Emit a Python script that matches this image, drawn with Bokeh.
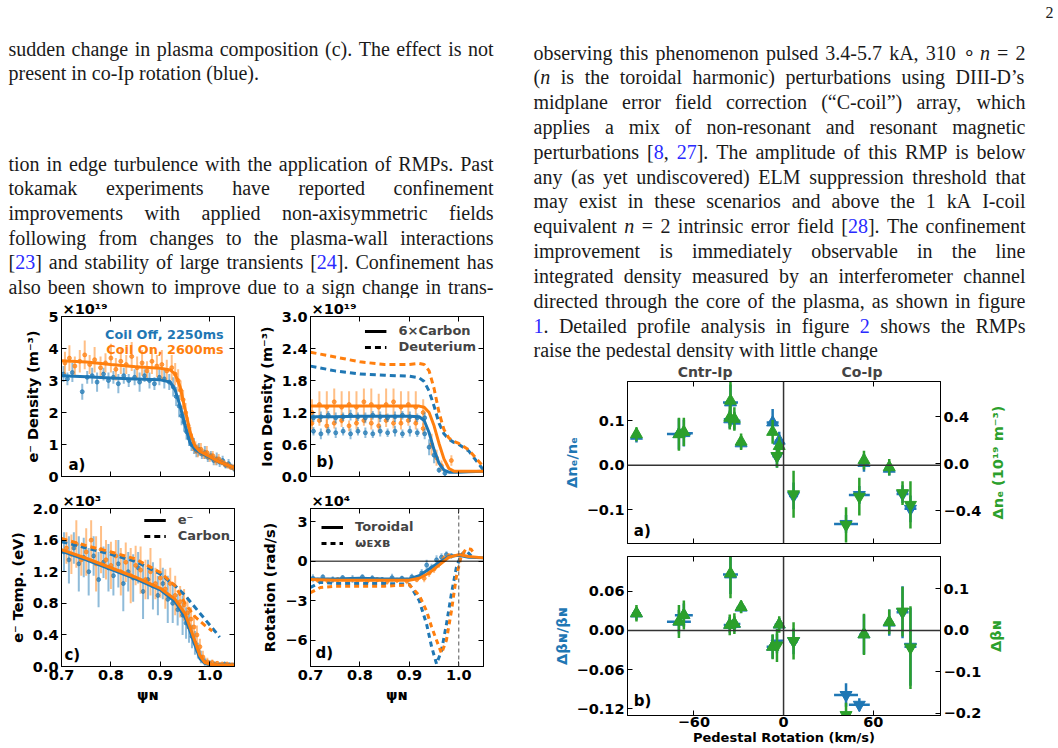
import math
from bokeh.plotting import figure
from bokeh.layouts import row, column
from bokeh.models import (Range1d, LinearAxis, FixedTicker, CustomJSTickFormatter,
                          Label, Legend, LegendItem, Span, ColumnDataSource, Title)
from bokeh.embed import file_html
from bokeh.resources import INLINE
from bokeh.core.properties import value

BLUE = "#1f77b4"; ORANGE = "#ff7f0e"; GREEN = "#2ca02c"
LINK = "#2a2aff"; INK = "#1a1a1a"
SANS = "DejaVu Sans"; SERIF = "Liberation Serif"
NAN = float("nan")

# ---------------- data: panel a (electron density, 1e19 m^-3) ----------------
psi_ticks = [0.7, 0.8, 0.9, 1.0]
psi_fit = [0.70, 0.75, 0.80, 0.85, 0.90, 0.92, 0.93, 0.94, 0.95, 0.96, 0.97, 0.98, 1.00, 1.02, 1.05]
ne_fit_off = [3.15, 3.12, 3.08, 3.05, 3.02, 2.95, 2.7, 2.2, 1.6, 1.05, 0.85, 0.75, 0.6, 0.45, 0.28]
ne_fit_on = [3.62, 3.58, 3.5, 3.43, 3.38, 3.33, 3.2, 2.8, 2.1, 1.4, 0.95, 0.78, 0.62, 0.45, 0.28]
ne_off_x = [0.704, 0.712, 0.722, 0.742, 0.752, 0.762, 0.772, 0.785, 0.795, 0.805,
            0.815, 0.826, 0.836, 0.848, 0.858, 0.868, 0.878, 0.888, 0.898, 0.908,
            0.918, 0.926, 0.932, 0.938, 0.943, 0.948, 0.953, 0.958, 0.963, 0.968,
            0.973, 0.978, 0.984, 0.99, 0.996, 1.002, 1.008, 1.014, 1.02, 1.026,
            1.032, 1.038, 1.044, 1.049]
ne_off_y = [3.2, 3.05, 3.25, 2.65, 3.1, 3.15, 2.95, 3.2, 3.0, 3.1,
            2.9, 3.15, 3.0, 3.1, 2.95, 3.15, 3.0, 2.9, 3.1, 3.05,
            2.95, 2.8, 2.5, 2.2, 1.9, 1.7, 1.4, 1.2, 1.0, 0.95,
            0.8, 0.85, 0.7, 0.75, 0.6, 0.65, 0.5, 0.55, 0.45, 0.5,
            0.35, 0.4, 0.3, 0.25]
ne_off_err = [0.25, 0.2, 0.3, 0.25, 0.2, 0.25, 0.3, 0.2, 0.25, 0.2,
              0.3, 0.25, 0.2, 0.25, 0.3, 0.2, 0.25, 0.2, 0.25, 0.3,
              0.25, 0.3, 0.3, 0.35, 0.3, 0.3, 0.25, 0.25, 0.2, 0.25,
              0.2, 0.2, 0.15, 0.2, 0.15, 0.15, 0.15, 0.2, 0.15, 0.15,
              0.1, 0.15, 0.1, 0.1]
ne_on_x = [0.707, 0.716, 0.727, 0.737, 0.747, 0.757, 0.767, 0.779, 0.789, 0.80,
           0.81, 0.82, 0.831, 0.842, 0.853, 0.863, 0.873, 0.883, 0.893, 0.903,
           0.913, 0.923, 0.93, 0.936, 0.941, 0.946, 0.951, 0.956, 0.961, 0.966,
           0.971, 0.976, 0.982, 0.988, 0.994, 1.0, 1.006, 1.012, 1.018, 1.024,
           1.03, 1.036, 1.042, 1.048]
ne_on_y = [3.55, 3.7, 3.45, 3.6, 3.8, 3.5, 3.65, 3.4, 3.55, 3.7,
           3.35, 3.6, 3.5, 3.75, 3.4, 3.55, 3.3, 3.6, 3.45, 3.5,
           3.3, 3.4, 3.2, 3.0, 2.7, 2.4, 2.0, 1.6, 1.3, 1.0,
           0.9, 0.8, 0.85, 0.7, 0.75, 0.6, 0.65, 0.5, 0.55, 0.45,
           0.4, 0.35, 0.3, 0.28]
ne_on_err = [0.35, 0.4, 0.3, 0.35, 0.45, 0.3, 0.4, 0.35, 0.3, 0.45,
             0.35, 0.4, 0.3, 0.45, 0.35, 0.4, 0.3, 0.4, 0.35, 0.45,
             0.35, 0.4, 0.35, 0.35, 0.3, 0.3, 0.3, 0.25, 0.25, 0.2,
             0.2, 0.2, 0.2, 0.15, 0.2, 0.15, 0.15, 0.15, 0.15, 0.1,
             0.1, 0.1, 0.1, 0.1]

# ---------------- data: panel b (ion density, 1e19 m^-3) ----------------
psi_b = [0.70, 0.75, 0.80, 0.85, 0.90, 0.92, 0.93, 0.94, 0.95, 0.96, 0.97, 0.98, 0.99, 1.00, 1.02, 1.05]
nc_on = [1.32, 1.32, 1.32, 1.32, 1.32, 1.32, 1.3, 1.2, 0.95, 0.62, 0.33, 0.15, 0.1, 0.1, 0.1, 0.1]
nc_off = [1.12, 1.12, 1.13, 1.13, 1.13, 1.12, 1.05, 0.82, 0.5, 0.25, 0.12, 0.08, 0.08, 0.08, 0.09, 0.1]
nd_on = [2.33, 2.24, 2.15, 2.1, 2.1, 2.12, 2.1, 1.98, 1.65, 1.2, 0.88, 0.72, 0.66, 0.62, 0.5, 0.18]
nd_off = [2.07, 1.98, 1.92, 1.9, 1.88, 1.85, 1.78, 1.6, 1.32, 1.0, 0.8, 0.7, 0.64, 0.6, 0.48, 0.12]
ni_x = [0.703, 0.718, 0.733, 0.748, 0.763, 0.778, 0.793, 0.808, 0.823, 0.838, 0.853, 0.868, 0.883, 0.898, 0.913, 0.928]
ni_on_hi = [1.2, 1.35, 1.3, 1.4, 1.3, 1.35, 1.3, 1.4, 1.35, 1.3, 1.35, 1.4, 1.3, 1.35, 1.3, 1.2]
ni_on_hi_err = [0.25, 0.25, 0.3, 0.25, 0.3, 0.25, 0.3, 0.25, 0.3, 0.25, 0.3, 0.25, 0.3, 0.25, 0.3, 0.25]
ni_on_lo = [1.0, 1.05, 0.95, 1.0, 1.05, 0.95, 1.0, 1.05, 1.0, 0.95, 1.05, 1.0, 1.0, 1.05, 1.0, 0.9]
ni_on_lo_err = [0.12, 0.1, 0.12, 0.1, 0.12, 0.1, 0.12, 0.1, 0.12, 0.1, 0.12, 0.1, 0.12, 0.1, 0.12, 0.1]
ni_off_hi = [1.1, 1.12, 1.15, 1.1, 1.12, 1.15, 1.12, 1.1, 1.15, 1.12, 1.1, 1.12, 1.15, 1.12, 1.1, 1.1]
ni_off_lo = [0.85, 0.8, 0.85, 0.82, 0.85, 0.8, 0.85, 0.82, 0.8, 0.85, 0.82, 0.85, 0.8, 0.85, 0.82, 0.8]
ni_off_err = [0.08, 0.1, 0.08, 0.1, 0.08, 0.1, 0.08, 0.1, 0.08, 0.1, 0.08, 0.1, 0.08, 0.1, 0.08, 0.1]
ni_edge_on_x = [0.945, 0.955, 0.965, 0.985]
ni_edge_on_y = [0.6, 0.35, 0.2, 0.3]
ni_edge_on_err = [0.2, 0.15, 0.1, 0.1]
ni_edge_off_x = [0.94, 0.95, 0.96, 0.972]
ni_edge_off_y = [0.55, 0.4, 0.12, 0.06]
ni_edge_off_err = [0.15, 0.15, 0.05, 0.05]

# ---------------- data: panel c (temperature, 1e3 eV) ----------------
psi_c = [0.70, 0.75, 0.80, 0.85, 0.90, 0.93, 0.95, 0.96, 0.97, 0.98, 0.99, 1.00, 1.02, 1.05]
te_fit_off = [1.46, 1.35, 1.23, 1.11, 0.97, 0.82, 0.62, 0.45, 0.27, 0.1, 0.04, 0.02, 0.02, 0.02]
te_fit_on = [1.48, 1.37, 1.25, 1.13, 0.99, 0.85, 0.67, 0.5, 0.32, 0.14, 0.05, 0.03, 0.02, 0.02]
ti_off_x = [0.70, 0.75, 0.80, 0.85, 0.90, 0.93, 0.95, 0.97, 0.99, 1.01, 1.02]
ti_off = [1.58, 1.5, 1.42, 1.33, 1.17, 1.02, 0.9, 0.75, 0.6, 0.45, 0.37]
ti_on_x = [0.70, 0.75, 0.80, 0.85, 0.90, 0.93, 0.95, 0.97, 0.99, 1.005]
ti_on = [1.62, 1.53, 1.45, 1.36, 1.19, 1.02, 0.8, 0.63, 0.52, 0.45]
te_off_x = [0.705, 0.715, 0.725, 0.735, 0.745, 0.755, 0.765, 0.775, 0.785, 0.795,
            0.805, 0.815, 0.825, 0.835, 0.845, 0.855, 0.865, 0.875, 0.885, 0.895,
            0.905, 0.915, 0.925, 0.935, 0.945, 0.952, 0.958, 0.964, 0.97, 0.976,
            0.982, 0.99, 1.0, 1.01, 1.02, 1.03, 1.04, 1.05]
te_off_y = [1.45, 1.35, 1.5, 1.3, 1.38, 1.2, 1.4, 1.1, 1.32, 1.25,
            1.15, 1.3, 1.05, 1.2, 1.12, 1.25, 0.95, 1.1, 1.02, 0.9,
            1.05, 0.85, 0.8, 0.72, 0.65, 0.55, 0.5, 0.38, 0.3, 0.2,
            0.12, 0.06, 0.04, 0.03, 0.02, 0.03, 0.02, 0.02]
te_off_err = [0.25, 0.3, 0.2, 0.35, 0.25, 0.3, 0.25, 0.35, 0.2, 0.3,
              0.25, 0.3, 0.35, 0.25, 0.3, 0.2, 0.35, 0.25, 0.3, 0.25,
              0.2, 0.3, 0.25, 0.2, 0.25, 0.2, 0.2, 0.15, 0.15, 0.1,
              0.08, 0.05, 0.04, 0.03, 0.03, 0.03, 0.03, 0.03]
te_on_x = [0.71, 0.72, 0.73, 0.74, 0.75, 0.76, 0.77, 0.78, 0.79, 0.80,
           0.81, 0.82, 0.83, 0.84, 0.85, 0.86, 0.87, 0.88, 0.89, 0.90,
           0.91, 0.92, 0.93, 0.94, 0.948, 0.955, 0.962, 0.968, 0.974, 0.98,
           0.986, 0.995, 1.005, 1.015, 1.025, 1.035, 1.045]
te_on_y = [1.5, 1.42, 1.55, 1.35, 1.45, 1.6, 1.3, 1.48, 1.35, 1.28,
           1.4, 1.2, 1.32, 1.15, 1.28, 1.22, 1.1, 1.2, 1.05, 1.12,
           0.98, 1.05, 0.9, 0.82, 0.78, 0.68, 0.6, 0.5, 0.4, 0.25,
           0.12, 0.06, 0.05, 0.04, 0.03, 0.03, 0.02]
te_on_err = [0.2, 0.25, 0.3, 0.2, 0.3, 0.25, 0.35, 0.3, 0.25, 0.3,
             0.2, 0.3, 0.25, 0.35, 0.25, 0.3, 0.25, 0.3, 0.2, 0.25,
             0.25, 0.2, 0.25, 0.2, 0.2, 0.2, 0.15, 0.15, 0.12, 0.1,
             0.08, 0.05, 0.04, 0.03, 0.03, 0.03, 0.03]

# ---------------- data: panel d (rotation, 1e4 rad/s) ----------------
rot_x = [0.70, 0.75, 0.80, 0.85, 0.90, 0.92, 0.94, 0.96, 0.98, 1.00, 1.02, 1.05]
vtor_off = [-1.35, -1.35, -1.3, -1.35, -1.35, -1.1, -0.6, -0.1, 0.35, 0.45, 0.3, 0.25]
vtor_on = [-1.4, -1.45, -1.45, -1.45, -1.45, -1.3, -0.9, -0.3, 0.3, 0.5, 0.35, 0.25]
exb_x = [0.70, 0.72, 0.75, 0.80, 0.85, 0.90, 0.92, 0.935, 0.945, 0.955, 0.965, 0.975, 0.985, 0.995, 1.005, 1.015, 1.025, 1.03]
exb_off = [-2.0, -1.6, -1.7, -1.7, -1.7, -1.75, -3.0, -4.8, -6.5, -7.8, -6.8, -4.8, -2.5, -0.5, 0.5, 0.8, 0.4, 0.2]
exb_on = [-2.4, -2.0, -1.9, -1.9, -1.9, -1.8, -2.6, -3.8, -5.0, -6.0, -7.0, -6.0, -3.8, -1.2, 0.4, 0.95, 0.9, 0.6]
rot_off_x = [0.705, 0.725, 0.745, 0.765, 0.785, 0.805, 0.825, 0.845, 0.865, 0.885, 0.905, 0.925, 0.935, 0.945, 0.955, 0.965, 0.975, 0.985]
rot_off_y = [-1.3, -1.2, -1.4, -1.25, -1.35, -1.2, -1.3, -1.4, -1.25, -1.3, -1.2, -0.9, -0.3, -0.5, 0.1, 0.3, 0.5, 0.4]
rot_off_err = [0.3, 0.2, 0.25, 0.2, 0.3, 0.2, 0.25, 0.2, 0.3, 0.2, 0.25, 0.3, 0.4, 0.3, 0.35, 0.3, 0.25, 0.2]
rot_on_x = [0.715, 0.735, 0.755, 0.775, 0.795, 0.815, 0.835, 0.855, 0.875, 0.895, 0.915, 0.93, 0.94, 0.95, 0.96, 0.97, 0.98]
rot_on_y = [-1.45, -1.5, -1.4, -1.55, -1.45, -1.5, -1.4, -1.55, -1.45, -1.5, -1.4, -1.3, -0.9, -0.6, -0.2, 0.2, 0.4]
rot_on_err = [0.2, 0.25, 0.2, 0.25, 0.2, 0.25, 0.2, 0.25, 0.2, 0.25, 0.2, 0.3, 0.3, 0.3, 0.3, 0.25, 0.2]

# ---------------- data: right figure (per-shot changes vs pedestal rotation) ----------------
shot_rot = [-98.4, -70.0, -66.7, -35.5, -36.0, -32.9, -28.4, -7.3, -4.4, -2.9, 6.7, 41.8, 50.7, 53.8, 70.7, 79.6, 84.9]
shot_rot_err = [3, 8, 6, 5, 4, 4, 3, 4, 3, 3, 3, 8, 7, 3, 3, 4, 4]
shot_marker = ["triangle", "triangle", "triangle", "triangle", "triangle", "triangle", "triangle",
               "triangle", "inverted_triangle", "triangle", "inverted_triangle", "inverted_triangle",
               "inverted_triangle", "triangle", "triangle", "inverted_triangle", "inverted_triangle"]
dne_rel = [0.066, 0.07, 0.072, 0.141, 0.103, 0.10, 0.049, 0.096, 0.02, 0.055, -0.069, -0.132, -0.067, 0.005, -0.008, -0.065, -0.098]
dne_rel_err = [0.015, 0.035, 0.03, 0.04, 0.02, 0.02, 0.012, 0.03, 0.025, 0.02, 0.03, 0.02, 0.02, 0.02, 0.015, 0.02, 0.03]
dne_abs = [0.25, 0.25, 0.27, 0.535, 0.39, 0.38, 0.187, 0.27, 0.065, 0.15, -0.26, -0.52, -0.28, 0.03, -0.03, -0.25, -0.35]
dne_abs_err = [0.06, 0.14, 0.12, 0.22, 0.1, 0.1, 0.07, 0.1, 0.1, 0.08, 0.2, 0.15, 0.16, 0.08, 0.07, 0.1, 0.2]
dbeta_rel = [0.026, 0.0135, 0.0235, 0.086, 0.0085, 0.01, 0.035, -0.025, -0.02, 0.009, -0.0165, -0.099, -0.114, -0.006, 0.012, 0.028, -0.025]
dbeta_rel_err = [0.01, 0.018, 0.018, 0.03, 0.012, 0.012, 0.008, 0.018, 0.015, 0.01, 0.02, 0.018, 0.01, 0.03, 0.02, 0.04, 0.06]
dbeta_abs = [0.041, 0.021, 0.037, 0.137, 0.013, 0.016, 0.056, -0.04, -0.037, 0.014, -0.026, -0.205, -0.24, -0.01, 0.02, 0.045, -0.042]
dbeta_abs_err = [0.02, 0.04, 0.035, 0.06, 0.025, 0.025, 0.015, 0.03, 0.04, 0.02, 0.045, 0.03, 0.03, 0.05, 0.03, 0.06, 0.1]

# ---------------- page text ----------------
left_lines = [
    ("sudden change in plasma composition (c). The effect is not", True),
    ("present in co-Ip rotation (blue).", False),
    ("tion in edge turbulence with the application of RMPs. Past", True),
    ("tokamak experiments have reported confinement", True),
    ("improvements with applied non-axisymmetric fields", True),
    ("following from changes to the plasma-wall interactions", True),
    ("[{23}] and stability of large transients [{24}]. Confinement has", True),
    ("also been shown to improve due to a sign change in trans-", True),
]
left_centers = [48, 72.5, 163, 187.5, 212, 237, 261.5, 286]
right_lines = [
    ("observing this phenomenon pulsed 3.4-5.7 kA, 310 ∘ _n_ = 2", True),
    ("(_n_ is the toroidal harmonic) perturbations using DIII-D’s", True),
    ("midplane error field correction (“C-coil”) array, which", True),
    ("applies a mix of non-resonant and resonant magnetic", True),
    ("perturbations [{8}, {27}]. The amplitude of this RMP is below", True),
    ("any (as yet undiscovered) ELM suppression threshold that", True),
    ("may exist in these scenarios and above the 1 kA I-coil", True),
    ("equivalent _n_ = 2 intrinsic error field [{28}]. The confinement", True),
    ("improvement is immediately observable in the line", True),
    ("integrated density measured by an interferometer channel", True),
    ("directed through the core of the plasma, as shown in figure", True),
    ("{1}. Detailed profile analysis in figure {2} shows the RMPs", True),
    ("raise the pedestal density with little change", False),
]

# Times-compatible advance widths (per 1000 em) for Liberation Serif
TW = {' ': 250, '!': 333, '(': 333, ')': 333, ',': 250, '-': 333, '.': 250, '/': 278, ':': 278,
      ';': 278, '=': 564, '[': 333, ']': 333, '’': 333, '“': 444, '”': 444, '∘': 500, '?': 444}
for _c in "0123456789":
    TW[_c] = 500
TW.update(dict(A=722, B=667, C=667, D=722, E=611, F=556, G=722, H=722, I=333, J=389, K=722, L=611,
               M=889, N=722, O=722, P=556, Q=722, R=667, S=556, T=611, U=722, V=722, W=944, X=722,
               Y=722, Z=611))
TW.update(dict(a=444, b=500, c=444, d=500, e=444, f=333, g=500, h=500, i=278, j=278, k=500, l=278,
               m=778, n=500, o=500, p=500, q=500, r=333, s=389, t=278, u=500, v=500, w=722, x=500,
               y=500, z=444))


def tw(s):
    return sum(TW.get(c, 500) for c in s) / 1000.0


def parse_word(word):
    segs, cur, color, style = [], "", INK, "normal"
    for ch in word:
        if ch in "{}_":
            if cur:
                segs.append((cur, color, style))
            cur = ""
            if ch == "{":
                color = LINK
            elif ch == "}":
                color = INK
            else:
                style = "italic" if style == "normal" else "normal"
        else:
            cur += ch
    if cur:
        segs.append((cur, color, style))
    return segs


def layout_text(lines, centers, x0, x1, fs):
    out = {"normal": dict(x=[], y=[], t=[], c=[]), "italic": dict(x=[], y=[], t=[], c=[])}
    for (line, just), yc in zip(lines, centers):
        words = [parse_word(w) for w in line.split(" ")]
        widths = [sum(tw(s[0]) for s in w) * fs for w in words]
        if just and len(words) > 1:
            gap = (x1 - x0 - sum(widths)) / (len(words) - 1)
        else:
            gap = 0.25 * fs
        x = x0
        for w, wd in zip(words, widths):
            xx = x
            for t, c, st in w:
                d = out[st]
                d["x"].append(xx); d["y"].append(yc); d["t"].append(t); d["c"].append(c)
                xx += tw(t) * fs
            x += wd + gap
    return out


def blank_fig(W, H):
    p = figure(width=W, height=H, x_range=Range1d(0, W), y_range=Range1d(H, 0),
               x_axis_type=None, y_axis_type=None, output_backend="svg", toolbar_location=None,
               min_border=0, outline_line_color=None)
    p.grid.visible = False
    return p


def text_fig(W, H, lines, centers, x0, x1, fs):
    p = blank_fig(W, H)
    data = layout_text(lines, centers, x0, x1, fs)
    for st, d in data.items():
        if d["x"]:
            p.text(x="x", y="y", text="t", text_color="c", source=ColumnDataSource(d),
                   text_font=value(SERIF), text_font_size=value(f"{fs}px"),
                   text_font_style=value(st), text_baseline=value("middle"),
                   text_align=value("left"))
    return p


def vlabel_fig(W, H, x, y, text, color):
    # rotated axis title reading bottom-to-top, placed beside a right-hand axis
    p = blank_fig(W, H)
    p.text(x=[x], y=[y], text=[text], angle=math.pi / 2, text_font=value(SANS),
           text_font_style=value("bold"), text_font_size=value("14.5px"), text_color=color,
           text_align=value("center"), text_baseline=value("middle"))
    return p


# ---------------- chart helpers ----------------
def fmt(dec):
    return CustomJSTickFormatter(code=f"var s = Math.abs(tick).toFixed({dec}); return (tick < -1e-9 ? '\\u2212' : '') + s;")


def style_axis(ax, ticks, dec, show=True, size="14.5px"):
    ax.ticker = FixedTicker(ticks=ticks)
    ax.formatter = fmt(dec) if show else CustomJSTickFormatter(code="return '';")
    ax.major_tick_in = 5
    ax.major_tick_out = 0
    ax.minor_tick_in = 0
    ax.minor_tick_out = 0
    ax.major_tick_line_color = "black"
    ax.axis_line_color = "black"
    ax.major_label_text_font = SANS
    ax.major_label_text_font_style = "bold"
    ax.major_label_text_color = "black"
    ax.major_label_text_font_size = size
    ax.major_label_standoff = 3 if show else 0
    ax.axis_label_text_font = SANS
    ax.axis_label_text_font_style = "bold"
    ax.axis_label_text_font_size = "14.5px"
    ax.axis_label_text_color = "black"
    ax.axis_label_standoff = 4


def base_fig(fw, fh, bl, br, bt, bb, xr, yr):
    p = figure(frame_width=fw, frame_height=fh, min_border_left=bl, min_border_right=br,
               min_border_top=bt, min_border_bottom=bb, x_range=Range1d(*xr), y_range=Range1d(*yr),
               output_backend="svg", toolbar_location=None)
    p.grid.visible = False
    p.outline_line_color = "black"
    p.outline_line_alpha = 1.0
    p.outline_line_width = 1
    return p


def left_panel(bl, br, bt, bb, fh, yr, yticks, ydec, ylabel, show_x, offset_text):
    p = base_fig(173, fh, bl, br, bt, bb, (0.7, 1.05), yr)
    p.title = Title(text=offset_text, align="left", offset=1, standoff=0, text_font=SANS,
                    text_font_style="bold", text_font_size="14.5px", text_color="black")
    style_axis(p.below[0], psi_ticks, 1, show_x)
    style_axis(p.left[0], yticks, ydec, True)
    p.left[0].axis_label = ylabel
    if show_x:
        p.below[0].axis_label = "ψɴ"
    top = LinearAxis()
    style_axis(top, psi_ticks, 1, False)
    p.add_layout(top, "above")
    rgt = LinearAxis()
    style_axis(rgt, yticks, ydec, False)
    p.add_layout(rgt, "right")
    return p


def errbars(p, xs, ys, es, color, alpha=0.5, width=2, size=4, **kw):
    src = ColumnDataSource(dict(x=xs, y=ys, lo=[y - e for y, e in zip(ys, es)],
                                hi=[y + e for y, e in zip(ys, es)]))
    p.segment(x0="x", y0="lo", x1="x", y1="hi", source=src, line_color=color,
              line_alpha=alpha, line_width=width, **kw)
    p.scatter(x="x", y="y", source=src, size=size, fill_color=color, line_color=color,
              alpha=min(1.0, alpha + 0.2), **kw)


def add_label(p, x, y, text, color="black", size="14.5px", align="left", baseline="middle"):
    p.add_layout(Label(x=x, y=y, text=text, text_color=color,
                       text_font=SANS, text_font_style="bold", text_font_size=size,
                       text_align=align, text_baseline=baseline))


def add_legend(p, labels, dash, location, margin):
    r1 = p.line([NAN], [NAN], line_color="black", line_width=3)
    r2 = p.line([NAN], [NAN], line_color="black", line_width=3, line_dash=dash)
    leg = Legend(items=[LegendItem(label=labels[0], renderers=[r1]),
                        LegendItem(label=labels[1], renderers=[r2])], location=location)
    leg.background_fill_alpha = 0
    leg.border_line_alpha = 0
    leg.label_text_font = SANS
    leg.label_text_font_style = "bold"
    leg.label_text_font_size = "13px"
    leg.glyph_width = 22
    leg.glyph_height = 14
    leg.label_height = 14
    leg.spacing = 1
    leg.padding = 3
    leg.label_standoff = 12
    leg.margin = margin
    p.add_layout(leg)


# ---------------- panel a ----------------
pa = left_panel(61, 21, 17, 10, 160, (0, 5), [0, 1, 2, 3, 4, 5], 0, "e⁻ Density (m⁻³)", False, "×10¹⁹")
errbars(pa, ne_off_x, ne_off_y, ne_off_err, BLUE)
errbars(pa, ne_on_x, ne_on_y, ne_on_err, ORANGE)
pa.line(psi_fit, ne_fit_off, line_color=BLUE, line_width=3)
pa.line(psi_fit, ne_fit_on, line_color=ORANGE, line_width=3)
add_label(pa, 1.028, 4.44, "Coil Off, 2250ms", color=BLUE, size="12.8px", align="right")
add_label(pa, 1.028, 3.97, "Coil On, 2600ms", color=ORANGE, size="12.8px", align="right")
add_label(pa, 0.714, 0.375, "a)", size="15px")

# ---------------- panel b ----------------
pb = left_panel(54, 42, 17, 10, 160, (0, 3.0), [0, 0.6, 1.2, 1.8, 2.4, 3.0], 1, "Ion Density (m⁻³)", False, "×10¹⁹")
errbars(pb, ni_x, ni_on_hi, ni_on_hi_err, ORANGE)
errbars(pb, ni_x, ni_on_lo, ni_on_lo_err, ORANGE)
errbars(pb, [v + 0.003 for v in ni_x], ni_off_hi, ni_off_err, BLUE)
errbars(pb, [v + 0.003 for v in ni_x], ni_off_lo, ni_off_err, BLUE)
errbars(pb, ni_edge_on_x, ni_edge_on_y, ni_edge_on_err, ORANGE)
errbars(pb, ni_edge_off_x, ni_edge_off_y, ni_edge_off_err, BLUE)
pb.line(psi_b, nd_off, line_color=BLUE, line_width=3, line_dash="6 4")
pb.line(psi_b, nd_on, line_color=ORANGE, line_width=3, line_dash="6 4")
pb.line(psi_b, nc_off, line_color=BLUE, line_width=3)
pb.line(psi_b, nc_on, line_color=ORANGE, line_width=3)
add_legend(pb, ["6×Carbon", "Deuterium"], "6 4", "top_right", 4)
add_label(pb, 0.712, 0.264, "b)", size="15px")

# ---------------- panel c ----------------
pc = left_panel(61, 21, 22, 83, 158, (0, 2.0), [0, 0.4, 0.8, 1.2, 1.6, 2.0], 1, "e⁻ Temp. (eV)", True, "×10³")
errbars(pc, te_off_x, te_off_y, te_off_err, BLUE)
errbars(pc, te_on_x, te_on_y, te_on_err, ORANGE)
pc.line(psi_c, te_fit_off, line_color=BLUE, line_width=3)
pc.line(psi_c, te_fit_on, line_color=ORANGE, line_width=3)
pc.line(ti_off_x, ti_off, line_color=BLUE, line_width=3, line_dash="6 4")
pc.line(ti_on_x, ti_on, line_color=ORANGE, line_width=3, line_dash="6 4")
add_legend(pc, ["e⁻", "Carbon"], "6 4", "top_right", 1)
add_label(pc, 0.706, 0.14, "c)", size="15px")

# ---------------- panel d ----------------
pd = left_panel(55, 42, 22, 83, 158, (-8, 4), [-6, -3, 0, 3], 0, "Rotation (rad/s)", True, "×10⁴")
pd.add_layout(Span(location=0, dimension="width", line_color="black", line_width=1))
pd.add_layout(Span(location=1.0, dimension="height", line_color="#555555", line_width=1, line_dash="4 3"))
errbars(pd, rot_off_x, rot_off_y, rot_off_err, BLUE, alpha=0.45)
errbars(pd, rot_on_x, rot_on_y, rot_on_err, ORANGE, alpha=0.45)
pd.line(exb_x, exb_off, line_color=BLUE, line_width=3, line_dash="5 4")
pd.line(exb_x, exb_on, line_color=ORANGE, line_width=3, line_dash="5 4")
pd.line(rot_x, vtor_off, line_color=BLUE, line_width=3)
pd.line(rot_x, vtor_on, line_color=ORANGE, line_width=3)
add_legend(pd, ["Toroidal", "ωᴇxʙ"], "5 4", "top_left", 8)
add_label(pd, 0.71, -6.97, "d)", size="15px")


# ---------------- right figure ----------------
def right_panel(bt, bb, fh, yl, yr, lticks, ldec, rticks, rdec, llabel, show_x, titles, xlabel=None):
    p = base_fig(313, fh, 102, 45, bt, bb, (-104.4, 105), yl)
    p.extra_y_ranges = {"abs": Range1d(*yr)}
    bottom = p.below[0]
    style_axis(bottom, [-60, 0, 60], 0, show_x)
    if xlabel:
        bottom.axis_label = xlabel
        bottom.major_label_standoff = 1
        bottom.axis_label_standoff = 0
        bottom.axis_label_text_font_size = "13px"
    style_axis(p.left[0], lticks, ldec, True)
    p.left[0].axis_label = llabel
    p.left[0].axis_label_text_color = BLUE
    ax_r = LinearAxis(y_range_name="abs")
    style_axis(ax_r, rticks, rdec, True)
    p.add_layout(ax_r, "right")
    top = LinearAxis()
    style_axis(top, [-60, 0, 60], 0, False)
    p.add_layout(top, "above")
    if titles:
        tax = LinearAxis(ticker=FixedTicker(ticks=[-52.5, 52.5]),
                         formatter=CustomJSTickFormatter(code="return tick < 0 ? 'Cntr-Ip' : 'Co-Ip';"))
        tax.major_tick_in = 0
        tax.major_tick_out = 0
        tax.axis_line_color = None
        tax.major_label_text_font = SANS
        tax.major_label_text_font_style = "bold"
        tax.major_label_text_font_size = "14px"
        tax.major_label_standoff = 2
        p.add_layout(tax, "above")
    p.add_layout(Span(location=0, dimension="height", line_color="#333333", line_width=1.5))
    p.add_layout(Span(location=0, dimension="width", line_color="#333333", line_width=1.5))
    return p


def shots(p, rel, rel_err, ab, ab_err):
    src = ColumnDataSource(dict(
        x=shot_rot, xlo=[x - e for x, e in zip(shot_rot, shot_rot_err)],
        xhi=[x + e for x, e in zip(shot_rot, shot_rot_err)],
        r=rel, rlo=[v - e for v, e in zip(rel, rel_err)], rhi=[v + e for v, e in zip(rel, rel_err)],
        a=ab, alo=[v - e for v, e in zip(ab, ab_err)], ahi=[v + e for v, e in zip(ab, ab_err)],
        mk=shot_marker))
    p.segment(x0="xlo", y0="r", x1="xhi", y1="r", source=src, line_color=BLUE, line_width=2.5)
    p.segment(x0="x", y0="rlo", x1="x", y1="rhi", source=src, line_color=BLUE, line_width=2.5)
    p.scatter(x="x", y="r", marker="mk", source=src, size=12, fill_color=BLUE, line_color=BLUE)
    p.segment(x0="x", y0="alo", x1="x", y1="ahi", source=src, line_color=GREEN, line_width=2.5,
              y_range_name="abs")
    p.scatter(x="x", y="a", marker="mk", source=src, size=12, fill_color=GREEN, line_color=GREEN,
              y_range_name="abs")


pra = right_panel(21, 3, 162, (-0.176, 0.188), (-0.678, 0.698), [-0.1, 0, 0.1], 1,
                  [-0.4, 0, 0.4], 1, "Δnₑ/nₑ", False, True)
shots(pra, dne_rel, dne_rel_err, dne_abs, dne_abs_err)
add_label(pra, -100.2, -0.148, "a)", size="15px")
lab_a = vlabel_fig(73, 186, 12, 102, "Δnₑ (10¹⁹ m⁻³)", GREEN)

prb = right_panel(10, 25, 159, (-0.1305, 0.1135), (-0.206, 0.178), [-0.12, -0.06, 0, 0.06], 2,
                  [-0.2, -0.1, 0, 0.1], 1, "Δβɴ/βɴ", True, False,
                  xlabel="Pedestal Rotation (km/s)")
shots(prb, dbeta_rel, dbeta_rel_err, dbeta_abs, dbeta_abs_err)
add_label(prb, -100.2, -0.109, "b)", size="15px")
lab_b = vlabel_fig(73, 200, 10, 89.5, "Δβɴ", GREEN)

# ---------------- page layout ----------------
FS = 20
textL = text_fig(525, 298, left_lines, left_centers, 8, 493, FS)
textR = text_fig(533, 360, right_lines, [52 + 24.83 * i for i in range(len(right_lines))], 8, 500, FS)
textR.text(x=[520], y=[12], text=["2"], text_font=value(SERIF), text_font_size=value("16px"),
           text_color=INK, text_align=value("left"), text_baseline=value("middle"))

left_col = column(row(textL), row(pa, pb), row(pc, pd))
right_col = column(row(textR), row(pra, column(lab_a)), row(prb, column(lab_b)))
page = row(left_col, right_col)

open("out.html", "w").write(file_html(page, INLINE))
